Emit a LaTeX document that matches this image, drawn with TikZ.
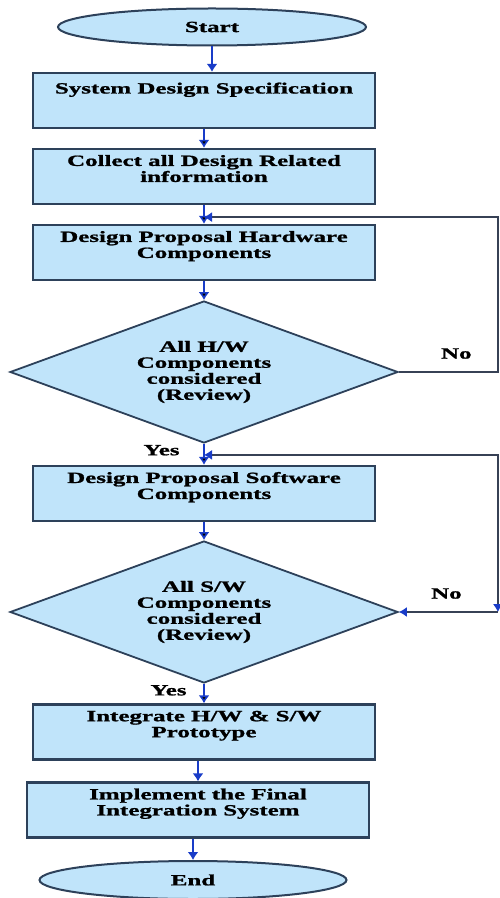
\documentclass[tikz,border=0pt]{standalone}
\usepackage{fontspec}
\setmainfont{Liberation Serif}[FakeStretch=1.6, BoldFeatures={FakeBold=1.2}]
\usetikzlibrary{arrows.meta,shapes.geometric,positioning}

\definecolor{boxfill}{RGB}{192,228,250}
\definecolor{boxline}{RGB}{45,65,90}
\definecolor{flowblue}{RGB}{25,60,200}
\definecolor{loopgray}{RGB}{55,65,85}
\tikzset{backtip/.tip={Latex[length=4pt,width=5pt,color=flowblue]}}

\begin{document}
\begin{tikzpicture}[on grid,node distance=38pt,font=\fontsize{7.8}{8}\selectfont\bfseries,
    >={Latex[length=4pt,width=5.5pt]}]
       \tikzstyle{terminal}=[ellipse, draw=boxline, line width=1pt, fill=boxfill,
           minimum width=154pt, minimum height=18.5pt, inner sep=0pt]
       \tikzstyle{process}=[rectangle, draw=boxline, line width=1.1pt, fill=boxfill,
           minimum width=171pt, minimum height=27.5pt, inner sep=0pt, align=center, text depth=8pt]
       \tikzstyle{decision}=[diamond, aspect=2.7, draw=boxline, line width=0.9pt, fill=boxfill,
           minimum width=194pt, minimum height=71pt, inner sep=0pt, align=center]
       \tikzstyle{flow}=[->, draw=flowblue, line width=0.8pt]
       \tikzstyle{backline}=[draw=loopgray, line width=0.6pt]

       \useasboundingbox (0,0) rectangle (249.5pt,-449pt);

       \node[terminal] (start) at (106pt,-13.5pt) {Start};
       \node[process, text depth=12.5pt] (spec) [below=36.75pt of start, xshift=-4pt] {System Design Specification};
       \node[process] (collect) [below of=spec] {Collect all Design Related\\information};
       \node[process] (hw) [below of=collect] {Design Proposal Hardware\\Components};
       \node[decision] (hwchk) [below=59.75pt of hw] {All H/W\\Components\\considered\\(Review)};
       \node[process] (sw) [below=60.75pt of hwchk] {Design Proposal Software\\Components};
       \node[decision] (swchk) [below=59.25pt of sw] {All S/W\\Components\\considered\\(Review)};
       \node[process] (integ) [below=60pt of swchk] {Integrate H/W \& S/W\\Prototype};
       \node[process] (impl) [below=39pt of integ, xshift=-3pt] {Implement the Final\\Integration System};
       \node[terminal] (end) [below=35pt of impl, xshift=-2.5pt, minimum width=153.5pt, minimum height=19pt] {End};

       \coordinate (j1) at ([yshift=-6pt]collect.south);
       \coordinate (j2) at ([yshift=-5.5pt]hwchk.south);
       \coordinate (c1) at ([xshift=49.5pt]hwchk.east);
       \coordinate (c2) at ([xshift=49.5pt]swchk.east);

       \draw[flow] (start.south) -- (start.south |- spec.north);
       \path[flow]
       (spec) edge (collect)
       (collect) edge (hw)
       (hw) edge (hwchk)
       (hwchk) edge node[left=8.5pt, pos=0.3] {Yes} (sw)
       (sw) edge (swchk)
       (swchk) edge node[left=5pt, pos=0.33] {Yes} (integ);
       \draw[flow] (impl.north |- integ.south) -- (impl.north);
       \draw[flow] (end.north |- impl.south) -- (end.north);

       % the two review loops
       \draw[backline, -backtip] (hwchk.east) -- node[above=3pt, pos=0.58] {No} (c1) |- (j1);
       \draw[backline, backtip-backtip] (j2) -| (c2);
       \draw[backline, -backtip] (c2) -- node[above=3pt, pos=0.52] {No} (swchk.east);
     \end{tikzpicture}
\end{document}
